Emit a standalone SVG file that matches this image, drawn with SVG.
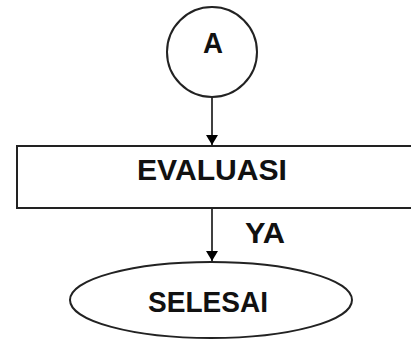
<svg xmlns="http://www.w3.org/2000/svg" width="411" height="345" viewBox="0 0 411 345">
<style>
.shape{fill:#fff;stroke:#222;stroke-width:2}
.lbl{font-family:"Liberation Sans",Arial,sans-serif;font-weight:bold;font-size:30px;fill:#111;text-anchor:middle}
.conn{stroke:#000;stroke-width:1.5;fill:none}
</style>
<defs>
<marker id="ah" markerWidth="10" markerHeight="12" refX="10" refY="6" orient="auto" markerUnits="userSpaceOnUse">
<path d="M0,0 L10,6 L0,12 Z" fill="#000"/>
</marker>
</defs>
<rect width="411" height="345" fill="#fff"/>
<g id="connectors">
<line class="conn" x1="212" y1="97" x2="212" y2="145" marker-end="url(#ah)"/>
<line class="conn" x1="212" y1="208" x2="212" y2="261" marker-end="url(#ah)"/>
</g>
<g id="node-a">
<circle class="shape" cx="212" cy="52" r="45"/>
<text class="lbl" x="213" y="53" textLength="20" lengthAdjust="spacingAndGlyphs">A</text>
</g>
<g id="node-evaluasi">
<rect class="shape" x="17" y="146" width="400" height="62"/>
<text class="lbl" x="212" y="180" textLength="150" lengthAdjust="spacingAndGlyphs">EVALUASI</text>
</g>
<g id="label-ya">
<text class="lbl" x="265" y="243" textLength="40" lengthAdjust="spacingAndGlyphs">YA</text>
</g>
<g id="node-selesai">
<ellipse class="shape" cx="211" cy="300" rx="141" ry="38"/>
<text class="lbl" x="208" y="312" textLength="120" lengthAdjust="spacingAndGlyphs">SELESAI</text>
</g>
</svg>
